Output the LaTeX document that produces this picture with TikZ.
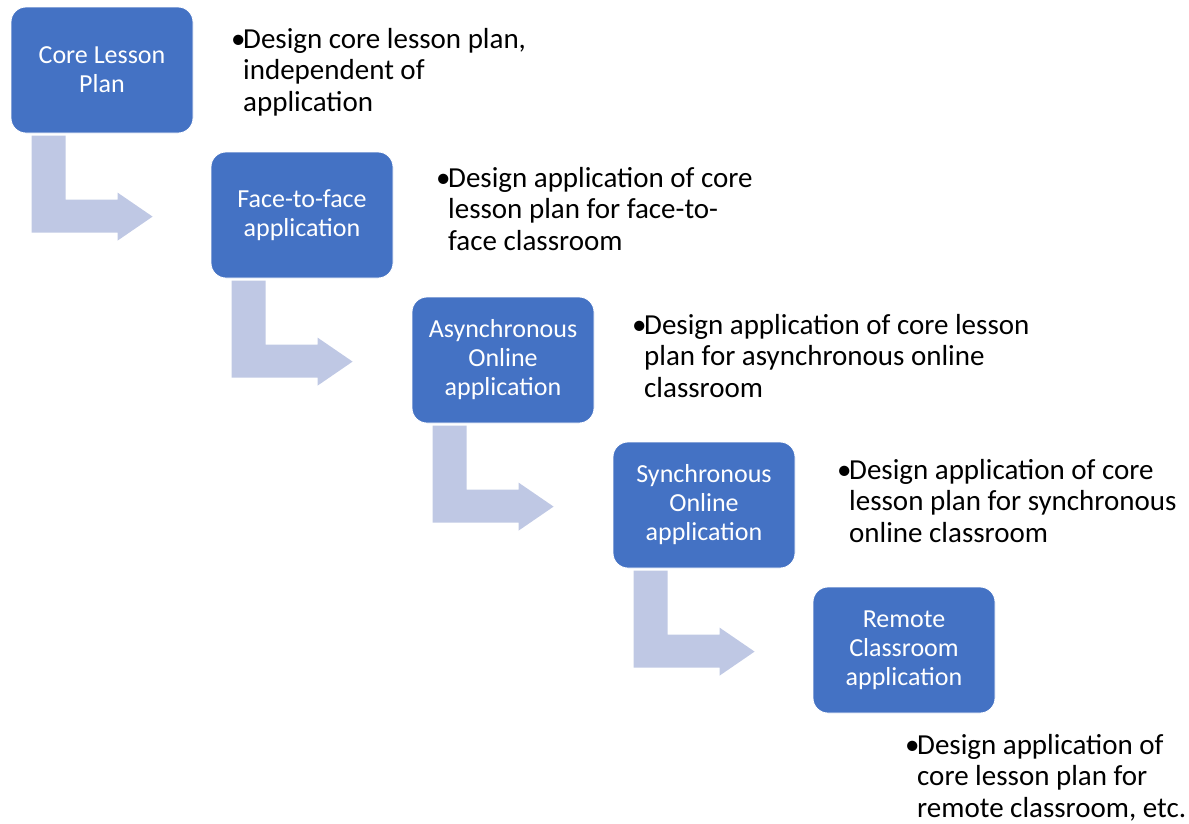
\documentclass[tikz,border=0pt]{standalone}
\usepackage{fontspec}
\setmainfont{Carlito}
\usetikzlibrary{calc}
\definecolor{boxblue}{HTML}{4472C4}
\definecolor{arrowblue}{RGB}{191,200,228}
\newcommand\stepdownarrow[1]{%
  \fill[arrowblue] ($(#1.north west)+(21,129)$) -- ($(#1.north west)+(55,129)$)
    -- ($(#1.north west)+(55,193)$) -- ($(#1.north west)+(107,193)$)
    -- ($(#1.north west)+(107,186)$) -- ($(#1.north west)+(142,210)$)
    -- ($(#1.north west)+(107,234)$) -- ($(#1.north west)+(107,226)$)
    -- ($(#1.north west)+(21,226)$) -- cycle;}
\newcommand\bulletlines[3]{\begin{tabular}[t]{@{}l@{}}\makebox[12pt][l]{•}#1\\\hspace*{12pt}#2\\\hspace*{12pt}#3\end{tabular}}
\begin{document}
\begin{tikzpicture}[x=1pt,y=-1pt,
  stepbox/.style={draw=white, line width=0.8pt, fill=boxblue, rounded corners=15pt,
    minimum width=182pt, minimum height=126pt, text=white, align=center, inner sep=0pt,
    font=\fontsize{26}{29}\selectfont},
  bullettext/.style={anchor=base west, inner sep=0pt, font=\fontsize{29}{31.5}\selectfont}]
\useasboundingbox (0,0) rectangle (1189,823);
\node[stepbox] (b1) at (102,70) {Core Lesson\\Plan};
\node[stepbox] (b2) at (302,215) {Face-to-face\\application};
\node[stepbox] (b3) at (503,360) {Asynchronous\\Online\\application};
\node[stepbox] (b4) at (704,505) {Synchronous\\Online\\application};
\node[stepbox] (b5) at (904,650) {Remote\\Classroom\\application};
\stepdownarrow{b1}
\stepdownarrow{b2}
\stepdownarrow{b3}
\stepdownarrow{b4}
\node[bullettext] (t1) at (231,48) {\bulletlines{Design core lesson plan,}{independent of}{application}};
\node[bullettext] (t2) at (436,187) {\bulletlines{Design application of core}{lesson plan for face-to-}{face classroom}};
\node[bullettext] (t3) at (632,334) {\bulletlines{Design application of core lesson}{plan for asynchronous online}{classroom}};
\node[bullettext] (t4) at (837,479) {\bulletlines{Design application of core}{lesson plan for synchronous}{online classroom}};
\node[bullettext] (t5) at (905,754) {\bulletlines{Design application of}{core lesson plan for}{remote classroom, etc.}};
\end{tikzpicture}
\end{document}
